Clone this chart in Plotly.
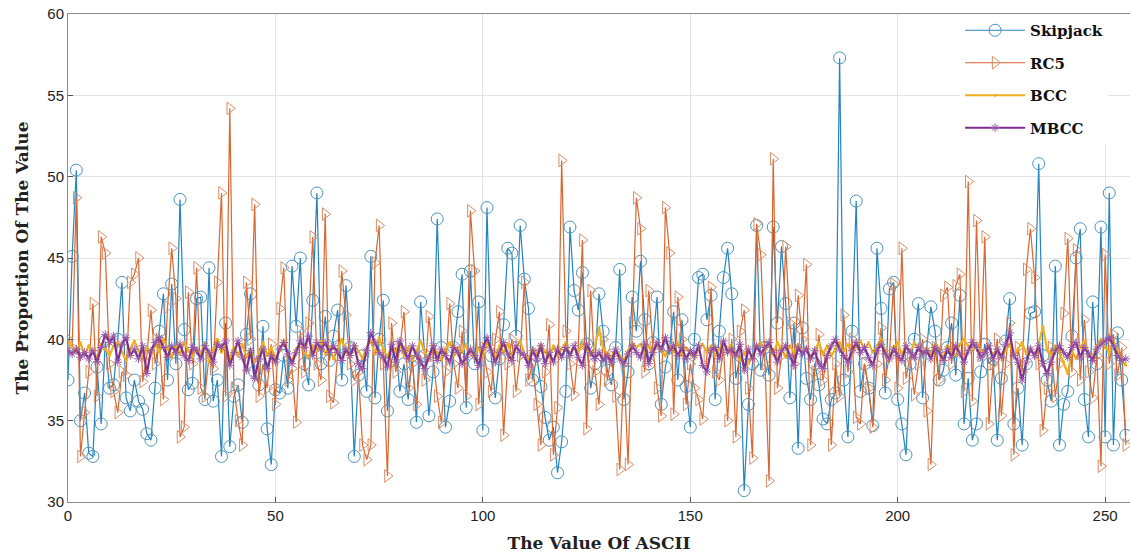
import plotly.graph_objects as go

ascii_values = list(range(256))

skipjack = [
    37.5, 45.1, 50.4, 35.0, 36.7, 33.0, 32.8, 38.3, 34.8, 39.9, 37.0, 37.2, 40.0, 43.5, 36.4, 35.6,
    37.5, 36.2, 35.7, 34.2, 33.8, 37.0, 40.5, 42.8, 37.5, 43.4, 38.5, 48.6, 40.6, 36.9, 37.3, 42.5,
    42.6, 36.3, 44.4, 36.2, 37.5, 32.8, 41.0, 33.4, 36.5, 37.2, 34.9, 40.3, 42.8, 38.0, 37.2, 40.8,
    34.5, 32.3, 36.9, 36.7, 39.0, 37.0, 44.5, 40.8, 45.0, 38.5, 37.2, 42.4, 49.0, 38.5, 41.4, 38.7,
    40.2, 41.8, 37.5, 43.3, 39.5, 32.8, 37.8, 39.0, 36.8, 45.1, 36.4, 40.0, 42.4, 35.6, 38.7, 39.5,
    36.8, 38.5, 36.3, 39.0, 34.9, 42.3, 39.0, 35.3, 38.0, 47.4, 39.5, 34.6, 36.2, 39.5, 41.7, 44.0,
    35.8, 44.2, 38.5, 42.3, 34.4, 48.1, 39.0, 36.4, 38.8, 40.9, 45.6, 45.3, 40.2, 47.0, 43.7, 41.9,
    37.5, 39.0, 37.1, 35.2, 33.8, 34.6, 31.8, 33.7, 36.8, 46.9, 43.0, 41.8, 44.1, 39.7, 37.0, 38.5,
    42.8, 40.5, 38.1, 37.2, 39.5, 44.3, 36.3, 38.0, 42.6, 40.5, 44.8, 41.2, 38.5, 39.8, 42.6, 36.0,
    38.3, 39.5, 41.7, 37.5, 41.2, 37.1, 34.6, 40.0, 43.8, 44.0, 41.2, 42.7, 36.3, 40.5, 43.8, 45.6,
    42.8, 37.6, 39.0, 30.7, 36.0, 38.5, 47.0, 38.1, 39.5, 37.8, 46.9, 41.0, 45.7, 42.2, 36.4, 41.0,
    33.3, 40.7, 37.6, 36.3, 38.5, 37.2, 35.1, 34.8, 36.3, 36.7, 57.3, 37.5, 34.0, 40.5, 48.5, 36.8,
    38.5, 37.0, 34.7, 45.6, 41.9, 36.7, 43.1, 43.5, 36.3, 34.8, 32.9, 38.5, 40.0, 42.2, 36.4, 39.5,
    42.0, 40.5, 37.5, 38.1, 39.5, 41.0, 37.8, 42.7, 34.8, 37.6, 33.8, 34.8, 38.0, 39.7, 38.5, 38.8,
    33.8, 37.6, 39.9, 42.5, 34.8, 37.0, 33.5, 38.5, 41.6, 41.7, 50.8, 39.0, 37.5, 36.2, 44.5, 33.5,
    36.0, 36.8, 40.2, 45.0, 46.8, 36.3, 34.0, 42.3, 38.5, 46.9, 34.0, 49.0, 33.5, 40.4, 37.5, 34.1,
]

rc5 = [
    40.0, 39.5, 48.7, 32.8, 35.5, 38.0, 42.2, 36.5, 46.3, 45.3, 38.5, 36.8, 35.5, 38.0, 37.8, 43.5,
    44.0, 45.0, 37.4, 39.0, 41.8, 38.5, 40.0, 36.3, 42.0, 45.6, 42.5, 34.0, 34.6, 42.9, 38.5, 44.4,
    37.0, 36.5, 39.0, 38.2, 43.5, 49.0, 36.5, 54.2, 37.0, 35.0, 33.5, 43.5, 40.0, 48.3, 36.5, 38.5,
    37.0, 39.7, 36.0, 41.9, 44.4, 37.5, 38.2, 34.9, 40.5, 38.0, 41.0, 46.3, 38.5, 37.5, 47.7, 36.5,
    36.1, 39.0, 44.2, 41.5, 38.5, 37.5, 38.0, 33.5, 32.6, 33.5, 44.7, 47.0, 38.5, 31.6, 41.0, 38.0,
    39.5, 41.7, 37.0, 38.5, 36.0, 39.0, 37.5, 41.4, 39.0, 36.5, 34.9, 38.0, 42.2, 38.5, 37.0, 40.5,
    36.5, 47.9, 44.2, 36.0, 39.5, 38.0, 36.8, 40.0, 41.7, 34.1, 38.5, 40.0, 36.8, 39.0, 43.5, 37.5,
    38.5, 36.0, 33.5, 38.0, 40.9, 32.9, 35.8, 51.0, 40.5, 38.5, 36.6, 39.5, 46.1, 34.5, 43.0, 38.0,
    36.0, 40.0, 37.5, 39.0, 36.5, 32.0, 38.5, 32.3, 41.0, 48.7, 46.8, 38.0, 43.0, 39.5, 37.0, 35.3,
    48.1, 45.3, 35.4, 42.6, 40.0, 36.0, 38.5, 37.0, 36.3, 35.1, 39.0, 43.2, 38.0, 37.5, 39.5, 35.0,
    40.0, 34.0, 40.5, 41.8, 37.0, 32.7, 47.1, 45.2, 38.5, 31.3, 51.1, 37.0, 39.0, 45.7, 41.0, 38.5,
    42.7, 40.0, 44.6, 33.5, 38.0, 40.3, 37.5, 39.0, 33.5, 38.5, 36.5, 41.5, 38.0, 40.0, 35.2, 34.8,
    38.5, 37.0, 34.6, 38.5, 40.7, 37.5, 39.0, 43.4, 37.0, 45.6, 37.6, 39.0, 36.6, 38.5, 40.0, 35.6,
    32.3, 39.5, 37.5, 42.7, 43.2, 38.5, 43.3, 44.0, 36.8, 49.7, 36.2, 47.3, 39.0, 46.3, 34.8, 38.5,
    40.0, 35.3, 38.5, 41.0, 32.9, 39.5, 38.0, 44.3, 46.8, 43.8, 38.5, 34.4, 37.0, 39.5, 36.5, 38.5,
    41.6, 46.2, 38.0, 45.5, 37.5, 41.2, 38.0, 36.4, 39.0, 32.2, 45.2, 38.5, 40.3, 37.8, 39.5, 33.5,
]

bcc = [
    39.9, 39.5, 39.2, 39.8, 39.0, 39.6, 39.3, 38.9, 39.7, 39.4, 39.0, 39.6, 39.8, 39.2, 38.7, 39.4,
    39.9, 39.3, 38.8, 39.5, 39.0, 39.7, 39.2, 40.0, 39.4, 38.9, 39.6, 39.1, 39.8, 39.3, 38.9, 39.5,
    39.1, 39.8, 38.6, 39.4, 40.0, 39.2, 39.6, 38.8, 39.5, 39.0, 39.7, 38.9, 39.4, 38.6, 39.2, 39.8,
    39.0, 39.5, 38.8, 39.3, 39.9, 39.1, 38.7, 39.4, 39.8, 39.2, 38.9, 39.6, 39.3, 39.9, 39.1, 39.5,
    38.8, 39.4, 40.0, 39.2, 38.9, 39.7, 39.3, 38.8, 39.5, 39.9, 39.1, 40.1, 39.4, 38.9, 39.6, 39.2,
    39.8, 39.0, 39.5, 38.7, 39.3, 39.9, 39.2, 38.8, 39.6, 39.1, 38.7, 39.4, 39.8, 39.0, 39.5, 39.2,
    39.7, 39.1, 38.8, 39.5, 39.0, 39.8, 39.3, 38.9, 39.6, 39.2, 39.7, 39.0, 39.5, 39.9, 39.1, 38.8,
    39.5, 39.1, 39.7, 39.2, 38.9, 39.6, 39.0, 39.4, 39.8, 39.1, 39.5, 39.2, 39.8, 39.4, 39.0, 39.6,
    40.7, 39.5, 39.1, 38.9, 39.4, 39.0, 38.7, 39.3, 39.8, 39.5, 39.7, 39.2, 39.6, 39.1, 39.8, 39.3,
    39.0, 39.6, 39.2, 39.8, 39.0, 39.5, 39.1, 38.8, 39.4, 39.7, 39.2, 39.6, 39.0, 39.4, 39.8, 39.3,
    39.6, 39.1, 38.7, 39.2, 38.5, 39.0, 39.5, 39.8, 39.3, 39.7, 39.1, 39.8, 39.4, 38.9, 39.6, 39.2,
    39.7, 39.2, 39.5, 38.9, 39.4, 39.8, 39.1, 39.6, 39.0, 39.4, 39.8, 39.3, 39.7, 39.1, 39.5, 39.9,
    39.4, 39.8, 39.2, 39.6, 40.0, 39.3, 38.8, 39.5, 39.8, 39.1, 39.6, 39.2, 39.8, 39.4, 39.0, 39.5,
    39.1, 39.7, 39.3, 38.9, 39.6, 39.2, 39.0, 39.7, 40.0, 39.6, 39.3, 39.8, 39.4, 39.2, 39.6, 39.0,
    39.5, 38.9, 39.3, 39.7, 39.0, 39.4, 39.8, 39.1, 39.5, 38.9, 39.7, 40.8, 39.4, 39.0, 39.6, 39.2,
    38.6, 37.9, 39.3, 38.8, 39.5, 39.9, 39.2, 38.9, 39.6, 40.0, 39.5, 39.2, 39.8, 39.3, 38.7, 38.4,
]

mbcc = [
    39.3, 39.1, 39.4, 38.9, 39.2, 38.8, 39.3, 38.6, 39.5, 40.3, 39.8, 40.2, 38.6, 39.7, 40.1, 39.0,
    39.4, 38.8, 39.6, 37.9, 39.3, 39.8, 40.1, 39.5, 38.9, 39.6, 39.2, 39.7, 39.0, 38.7, 39.5, 39.3,
    38.8, 39.6, 39.2, 38.6, 39.7, 39.5, 39.9, 38.4, 39.2, 39.9, 38.9, 38.1, 39.3, 37.6, 38.8, 39.4,
    38.2, 39.0, 38.6, 39.4, 39.8, 39.1, 38.5, 39.2, 39.9, 39.5, 40.2, 39.0, 39.8, 39.4, 39.8, 39.2,
    39.6, 39.2, 38.7, 39.4, 39.0, 39.6, 38.5, 38.2, 39.3, 40.4, 39.8, 39.2, 38.9, 38.3, 39.7, 38.6,
    39.9, 39.3, 38.8, 39.6, 39.0, 38.6, 38.2, 38.9, 39.6, 38.7, 39.4, 39.0, 38.6, 39.5, 39.2, 38.5,
    38.9, 39.4, 39.0, 38.4, 39.5, 40.1, 39.3, 38.6, 39.2, 39.8, 39.1, 38.7, 39.6, 39.2, 39.0, 38.4,
    39.3, 38.8, 39.6, 38.5, 39.2, 38.6, 39.4, 38.9, 39.5, 39.0, 39.6, 38.9, 38.4, 39.7, 39.2, 38.8,
    39.2, 38.7, 39.0, 38.6, 39.4, 38.8, 38.5, 39.1, 39.6, 39.2, 38.9, 39.7, 38.5, 39.2, 39.8, 39.4,
    40.1, 39.3, 39.6, 39.0, 39.5, 38.8, 39.3, 39.0, 39.6, 38.4, 38.0, 39.3, 39.5, 38.8, 39.9, 39.2,
    39.4, 39.0, 39.7, 38.1, 39.4, 38.8, 39.6, 39.1, 39.5, 39.8, 39.2, 38.6, 39.3, 39.6, 39.0, 38.4,
    39.5, 39.1, 39.4, 38.8, 39.3, 38.5, 38.2, 39.0, 39.6, 40.0, 39.4, 39.0, 38.6, 39.3, 39.8, 39.2,
    39.5, 38.9, 38.4, 39.3, 39.7, 39.1, 38.8, 39.4, 39.0, 38.7, 39.6, 39.2, 38.9, 39.5, 39.1, 39.3,
    38.8, 39.5, 39.2, 38.7, 39.4, 38.9, 39.6, 39.1, 38.6, 39.3, 39.8, 39.5, 38.9, 39.2, 39.6, 38.8,
    39.4, 38.9, 39.7, 40.4, 39.0, 38.6, 37.5, 38.6, 39.4, 39.0, 39.6, 38.5, 37.9, 38.6, 39.3, 39.6,
    39.2, 38.9, 39.5, 39.8, 38.9, 39.5, 39.1, 38.7, 39.4, 39.7, 39.9, 40.1, 39.6, 39.0, 38.7, 38.8,
]

series_names = ["Skipjack", "RC5", "BCC", "MBCC"]
x_ticks = [0, 50, 100, 150, 200, 250]
y_ticks = [30, 35, 40, 45, 50, 55, 60]

title_font = dict(family="DejaVu Serif", size=17, color="#222222")
tick_font = dict(family="Liberation Sans", size=15, color="#222222")

fig = go.Figure()
fig.add_trace(go.Scatter(
    x=ascii_values, y=skipjack, mode="lines+markers", name="<b>" + series_names[0] + "</b>",
    legendgroup="a",
    line=dict(color="#2483C0", width=1.2),
    marker=dict(symbol="circle-open", size=12, color="#4B93BD", line=dict(width=1)),
))
fig.add_trace(go.Scatter(
    x=ascii_values, y=rc5, mode="lines+markers", name="<b>" + series_names[1] + "</b>",
    legendgroup="b",
    line=dict(color="#D9662E", width=1.2),
    marker=dict(symbol="triangle-right-open", size=11, color="#D98C66", line=dict(width=1)),
))
fig.add_trace(go.Scatter(
    x=ascii_values, y=bcc, mode="lines+markers", name="<b>" + series_names[2] + "</b>",
    legendgroup="c",
    line=dict(color="#EDB120", width=2.2),
    marker=dict(symbol="circle", size=3, color="#EDB120"),
))
fig.add_trace(go.Scatter(
    x=ascii_values, y=mbcc, mode="lines+markers", name="<b>" + series_names[3] + "</b>",
    legendgroup="d",
    line=dict(color="#7E2F8E", width=2.2),
    marker=dict(symbol="asterisk-open", size=7, color="#9A5AA8", line=dict(width=1)),
))

axis_common = dict(
    showgrid=True, gridcolor="#E3E3E3", gridwidth=1,
    showline=True, linecolor="#8A8A8A", linewidth=1, mirror=True,
    ticks="inside", ticklen=5, tickcolor="#555555",
    tickfont=tick_font, zeroline=False, automargin=False,
    ticklabeloverflow="allow",
)

fig.update_xaxes(
    range=[0, 256], tickvals=x_ticks, ticktext=[str(v) for v in x_ticks],
    title=dict(text="<b>The Value Of ASCII</b>", font=title_font, standoff=14),
    **axis_common,
)
fig.update_yaxes(
    range=[30, 60], tickvals=y_ticks, ticktext=[str(v) for v in y_ticks],
    title=dict(text="<b>The Proportion Of The Value</b>", font=title_font, standoff=14),
    **axis_common,
)

fig.update_layout(
    width=1130, height=555,
    margin=dict(l=68, r=0, t=14, b=53),
    plot_bgcolor="white", paper_bgcolor="white",
    showlegend=True,
    legend=dict(
        x=0.84, y=1.0, xanchor="left", yanchor="top",
        bgcolor="white", borderwidth=0,
        font=dict(family="DejaVu Serif", size=15, color="#111111"),
        tracegroupgap=10, itemwidth=60,
    ),
)

fig.write_html(
    "out.html",
    config={"displayModeBar": False},
    post_script="document.body.style.margin='0';document.body.style.overflow='hidden';",
)
